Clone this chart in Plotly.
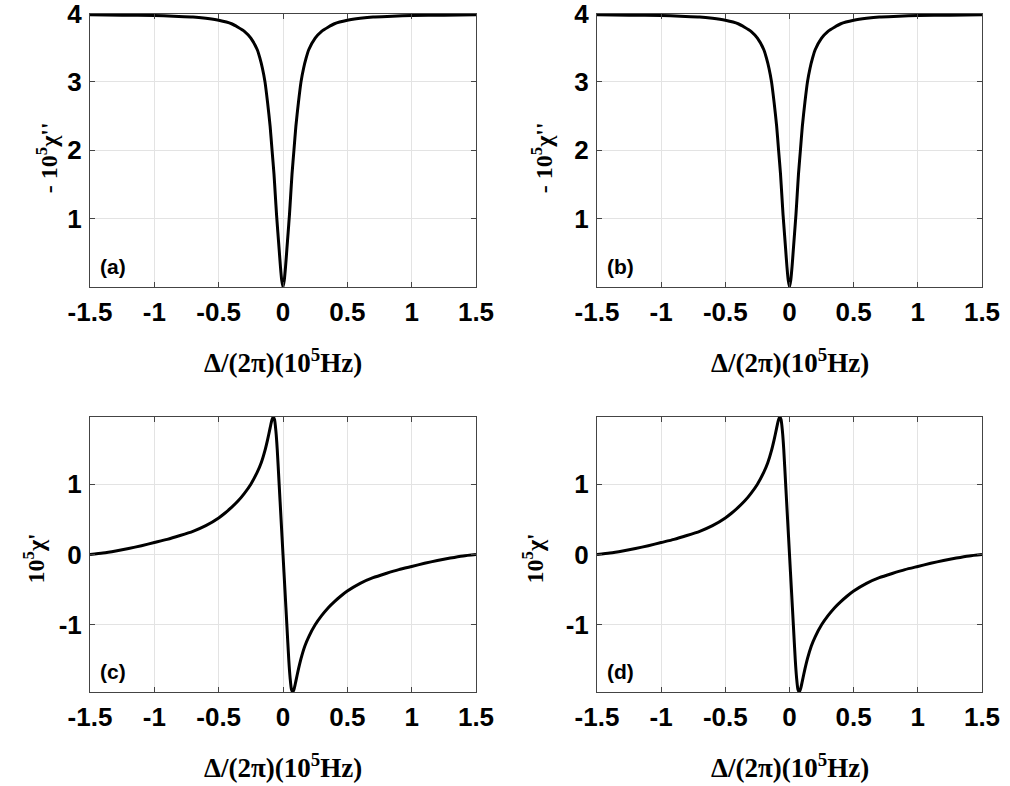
import plotly.graph_objects as go

# Detuning values (units of 1e5 Hz) and curves
delta_abs = [-1.5, -1.25, -1.0, -0.85, -0.7, -0.6, -0.5, -0.4, -0.35, -0.3, -0.25, -0.2, -0.18,
             -0.16, -0.14, -0.12, -0.1, -0.085, -0.07, -0.06, -0.05, -0.04, -0.03, -0.02, -0.01,
             0.0, 0.01, 0.02, 0.03, 0.04, 0.05, 0.06, 0.07, 0.085, 0.1, 0.12, 0.14, 0.16, 0.18,
             0.2, 0.25, 0.3, 0.35, 0.4, 0.5, 0.6, 0.7, 0.85, 1.0, 1.25, 1.5]
absorption = [3.98, 3.975, 3.97, 3.96, 3.95, 3.93, 3.9, 3.85, 3.8, 3.74, 3.64, 3.47, 3.35,
              3.2, 3.0, 2.7, 2.35, 2.0, 1.65, 1.35, 1.05, 0.8, 0.55, 0.3, 0.1,
              0.0, 0.1, 0.3, 0.55, 0.8, 1.05, 1.35, 1.65, 2.0, 2.35, 2.7, 3.0, 3.2, 3.35,
              3.47, 3.64, 3.74, 3.8, 3.85, 3.9, 3.93, 3.95, 3.96, 3.97, 3.975, 3.98]

delta_disp = [-1.5, -1.4, -1.3, -1.2, -1.1, -1.0, -0.9, -0.8, -0.7, -0.6, -0.5, -0.45, -0.4,
              -0.35, -0.3, -0.25, -0.2, -0.17, -0.14, -0.12, -0.1, -0.088, -0.077, -0.066,
              -0.055, -0.045, -0.03, -0.015, 0.0, 0.015, 0.03, 0.045, 0.055, 0.066, 0.077,
              0.088, 0.1, 0.12, 0.14, 0.17, 0.2, 0.25, 0.3, 0.35, 0.4, 0.45, 0.5, 0.6, 0.7,
              0.8, 0.9, 1.0, 1.1, 1.2, 1.3, 1.4, 1.5]
dispersion = [0.0, 0.02, 0.05, 0.085, 0.125, 0.17, 0.215, 0.27, 0.33, 0.41, 0.52, 0.59, 0.67,
              0.76, 0.87, 1.0, 1.17, 1.3, 1.48, 1.63, 1.8, 1.9, 1.955, 1.92,
              1.75, 1.5, 1.0, 0.5, 0.0, -0.5, -1.0, -1.5, -1.75, -1.92, -1.955,
              -1.9, -1.8, -1.63, -1.48, -1.3, -1.17, -1.0, -0.87, -0.76, -0.67, -0.59, -0.52, -0.41, -0.33,
              -0.27, -0.215, -0.17, -0.125, -0.085, -0.05, -0.02, 0.0]

x_ticks = [-1.5, -1.0, -0.5, 0.0, 0.5, 1.0, 1.5]
x_tick_text = ["-1.5", "-1", "-0.5", "0", "0.5", "1", "1.5"]
y_ticks_abs = [1, 2, 3, 4]
y_ticks_disp = [-1, 0, 1]
y_tick_text_disp = ["-1", "0", "1"]
panel_labels = ["(a)", "(b)", "(c)", "(d)"]
x_title = "<b>Δ/(2π)(10<sup>5</sup>Hz)</b>"
y_title_abs = "<b>- 10<sup>5</sup>χ''</b>"
y_title_disp = "<b>10<sup>5</sup>χ'</b>"

W, H = 1010, 786
# panel pixel boxes: (left, right, top, bottom)
boxes = [(90, 476, 13.5, 287), (597, 982, 13.5, 287),
         (90, 476, 417, 692), (597, 982, 417, 692)]

fig = go.Figure()

tick_font = dict(family="Liberation Sans, Arial", size=26, color="black", weight="bold")

for i, (l, r, t, b) in enumerate(boxes):
    n = "" if i == 0 else str(i + 1)
    is_abs = i < 2
    xs = delta_abs if is_abs else delta_disp
    ys = absorption if is_abs else dispersion
    fig.add_trace(go.Scatter(x=xs, y=ys, mode="lines",
                             line=dict(color="black", width=3, shape="spline", smoothing=0.6),
                             xaxis="x" + n, yaxis="y" + n, showlegend=False,
                             cliponaxis=True))
    common = dict(showgrid=True, gridcolor="#e3e3e3", gridwidth=1, zeroline=False,
                  showline=True, linecolor="#444", linewidth=1, mirror="ticks",
                  ticks="inside", ticklen=5, tickcolor="#444", tickfont=tick_font,
                  automargin=False, ticklabeloverflow="allow")
    xa = dict(domain=[l / W, r / W], anchor="y" + n, range=[-1.5, 1.5],
              tickvals=x_ticks, ticktext=x_tick_text, ticklabelstandoff=2, **common)
    if is_abs:
        ya = dict(domain=[1 - b / H, 1 - t / H], anchor="x" + n, range=[0, 4],
                  tickvals=y_ticks_abs, ticklabelstandoff=2, **common)
    else:
        ya = dict(domain=[1 - b / H, 1 - t / H], anchor="x" + n, range=[-1.955, 1.955],
                  tickvals=y_ticks_disp, ticktext=y_tick_text_disp, ticklabelstandoff=2, **common)
    fig.layout["xaxis" + n] = xa
    fig.layout["yaxis" + n] = ya

    # x axis title
    fig.add_annotation(text=x_title, xref="paper", yref="paper",
                       x=((l + r) / 2) / W, y=1 - (b + 74) / H, showarrow=False,
                       xanchor="center", yanchor="middle",
                       font=dict(family="Liberation Serif, Times New Roman", size=27, color="black"))
    # y axis title
    yx = [47, 542, 33, 532][i]
    fig.add_annotation(text=y_title_abs if is_abs else y_title_disp, xref="paper", yref="paper",
                       x=yx / W, y=1 - ((t + b) / 2 + (8 if is_abs else 4)) / H, showarrow=False,
                       textangle=-90, xanchor="center", yanchor="middle",
                       font=dict(family="Liberation Serif, Times New Roman", size=24, color="black"))
    # panel label
    fig.add_annotation(text="<b>" + panel_labels[i] + "</b>", xref="paper", yref="paper",
                       x=(l + 8) / W, y=1 - (b - 21) / H, showarrow=False,
                       xanchor="left", yanchor="middle",
                       font=dict(family="Liberation Sans, Arial", size=21, color="black"))

fig.update_layout(width=W, height=H, margin=dict(l=0, r=0, t=0, b=0),
                  paper_bgcolor="white", plot_bgcolor="white", template="none")

fig.write_html("out.html", config={"displayModeBar": False},
               post_script="document.body.style.margin='0';document.body.style.overflow='hidden';")
